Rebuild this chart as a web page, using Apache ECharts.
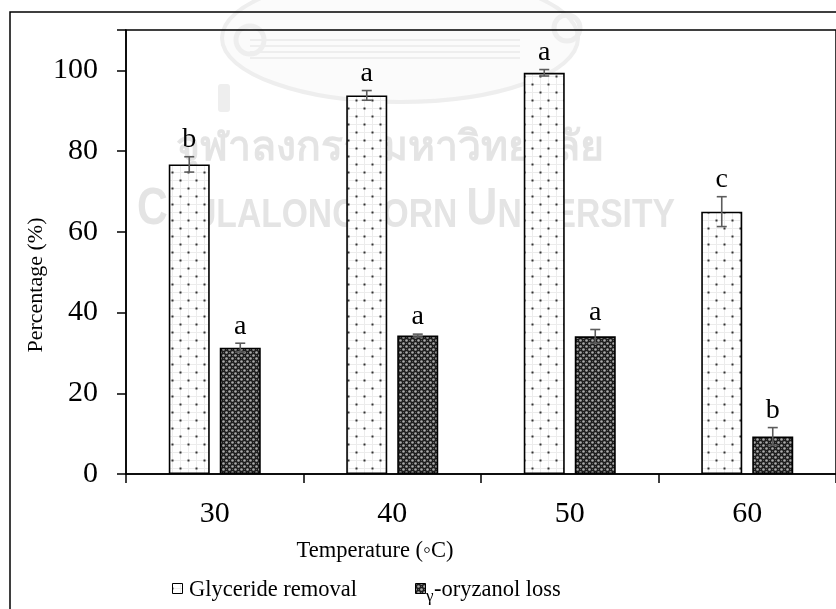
<!DOCTYPE html>
<html>
<head>
<meta charset="utf-8">
<script src="https://cdn.jsdelivr.net/npm/echarts@6/dist/echarts.min.js"></script>
<style>
  html, body { margin: 0; padding: 0; background: #fff; }
  #chart { width: 836px; height: 609px; }
</style>
</head>
<body>
<div id="chart"></div>
<script>
// Reaction temperature (°C)
const categories = ['30', '40', '50', '60'];

// Glyceride removal (%) with standard deviation and significance letters
const glycerideRemoval = [76.7, 93.8, 99.4, 65.0];
const glycerideErr = [1.9, 1.2, 0.8, 3.7];
const glycerideLetters = ['b', 'a', 'a', 'c'];

// γ-oryzanol loss (%) with standard deviation and significance letters
const oryzanolLoss = [31.3, 34.3, 34.1, 9.3];
const oryzanolErr = [1.1, 0.35, 1.7, 2.2];
const oryzanolLetters = ['a', 'a', 'a', 'b'];

const yTicks = { min: 0, max: 110, interval: 20 };

const SERIF = 'Liberation Serif';
const BAR_W = 41;
const BAR_SPACE = 10;

// Dotted fill used for the glyceride bars
function dotPattern() {
  const c = document.createElement('canvas');
  c.width = 16; c.height = 16;
  const g = c.getContext('2d');
  g.fillStyle = '#ffffff';
  g.fillRect(0, 0, 16, 16);
  g.fillStyle = '#ececec';
  g.fillRect(4, 0, 1, 16);
  g.fillRect(12, 0, 1, 16);
  g.fillRect(0, 4, 16, 1);
  g.fillRect(0, 12, 16, 1);
  g.fillStyle = '#333333';
  g.fillRect(3.5, 3.5, 2, 2);
  g.fillRect(11.5, 11.5, 2, 2);
  return c;
}

// Dark cross-hatched fill used for the γ-oryzanol bars
function hatchPattern() {
  const c = document.createElement('canvas');
  c.width = 6; c.height = 6;
  const g = c.getContext('2d');
  g.fillStyle = '#1c1c1c';
  g.fillRect(0, 0, 6, 6);
  g.fillStyle = '#ababab';
  g.beginPath(); g.arc(1.5, 1.5, 1.3, 0, Math.PI * 2); g.fill();
  g.beginPath(); g.arc(4.5, 4.5, 1.3, 0, Math.PI * 2); g.fill();
  g.fillStyle = '#5a5a5a';
  g.fillRect(4, 1, 1, 1);
  g.fillRect(1, 4, 1, 1);
  return c;
}

const dotFill = { image: dotPattern(), repeat: 'repeat' };
const hatchFill = { image: hatchPattern(), repeat: 'repeat' };

function errData(vals, errs) {
  return vals.map((v, i) => [i, v, errs[i]]);
}

// Error bar with its letter above, shifted to sit over its own bar
function errorRenderer(offset, letters) {
  return function (params, api) {
    const i = api.value(0);
    const v = api.value(1);
    const e = api.value(2);
    const top = api.coord([i, v + e]);
    const bot = api.coord([i, v - e]);
    const x = top[0] + offset;
    const cap = 5;
    const line = { stroke: '#5c5c5c', lineWidth: 1.6 };
    return {
      type: 'group',
      children: [
        { type: 'line', shape: { x1: x, y1: top[1], x2: x, y2: bot[1] }, style: line },
        { type: 'line', shape: { x1: x - cap, y1: top[1], x2: x + cap, y2: top[1] }, style: line },
        { type: 'line', shape: { x1: x - cap, y1: bot[1], x2: x + cap, y2: bot[1] }, style: line },
        {
          type: 'text',
          style: {
            text: letters[i], x: x, y: top[1] - 3,
            align: 'center', verticalAlign: 'bottom',
            font: '28px "' + SERIF + '"', fill: '#000'
          }
        }
      ]
    };
  };
}

const chart = echarts.init(document.getElementById('chart'), null, { renderer: 'canvas' });
const half = (BAR_W + BAR_SPACE) / 2;
const WM = '#e4e4e4';
const WM_LIGHT = '#eeeeee';

chart.setOption({
  animation: false,
  backgroundColor: '#ffffff',
  grid: {
    left: 126, top: 30, width: 715, height: 444,
    show: true, borderColor: '#000', borderWidth: 1.5, backgroundColor: 'transparent'
  },
  xAxis: {
    type: 'category',
    data: categories,
    axisLine: { lineStyle: { color: '#000', width: 1.5 } },
    axisTick: { show: true, length: 9, lineStyle: { color: '#000', width: 1.5 } },
    axisLabel: { color: '#000', fontFamily: SERIF, fontSize: 30, margin: 25 }
  },
  yAxis: {
    type: 'value',
    min: yTicks.min, max: yTicks.max, interval: yTicks.interval,
    axisLine: { show: true, lineStyle: { color: '#000', width: 1.5 } },
    axisTick: { show: true, length: 9, lineStyle: { color: '#000', width: 1.5 } },
    splitLine: { show: false },
    axisLabel: {
      color: '#000', fontFamily: SERIF, fontSize: 30, margin: 28,
      formatter: v => (v > 100 ? '' : String(v))
    }
  },
  series: [
    {
      name: 'Glyceride removal', type: 'bar', data: glycerideRemoval,
      barWidth: BAR_W, barGap: (BAR_SPACE / BAR_W * 100) + '%',
      itemStyle: { color: dotFill, borderColor: '#000', borderWidth: 1.6 },
      z: 2
    },
    {
      name: 'γ-oryzanol loss', type: 'bar', data: oryzanolLoss,
      barWidth: BAR_W,
      itemStyle: { color: hatchFill, borderColor: '#000', borderWidth: 1.6 },
      z: 2
    },
    {
      type: 'custom', data: errData(glycerideRemoval, glycerideErr),
      renderItem: errorRenderer(-half, glycerideLetters), z: 5
    },
    {
      type: 'custom', data: errData(oryzanolLoss, oryzanolErr),
      renderItem: errorRenderer(half, oryzanolLetters), z: 5
    }
  ],
  graphic: [
    // faint university seal behind the plot
    {
      type: 'ellipse', z: -10,
      shape: { cx: 400, cy: 38, rx: 178, ry: 64 },
      style: { fill: '#fbfbfb', stroke: WM_LIGHT, lineWidth: 4 }
    },
    {
      type: 'group', z: -10,
      children: [40, 46, 52, 58].map(y => ({
        type: 'line', shape: { x1: 250, y1: y, x2: 520, y2: y },
        style: { stroke: WM_LIGHT, lineWidth: 2 }
      }))
    },
    {
      type: 'circle', z: -10, shape: { cx: 250, cy: 40, r: 14 },
      style: { fill: 'none', stroke: WM_LIGHT, lineWidth: 5 }
    },
    {
      type: 'circle', z: -10, shape: { cx: 567, cy: 28, r: 13 },
      style: { fill: 'none', stroke: WM_LIGHT, lineWidth: 5 }
    },
    {
      type: 'rect', z: -10, shape: { x: 218, y: 84, width: 12, height: 28, r: 3 },
      style: { fill: WM_LIGHT }
    },
    // faint background lettering
    {
      type: 'text', z: -10, left: 176, top: 128,
      style: { text: 'จุฬาลงกรณ์มหาวิทยาลัย', font: 'bold 41px "Noto Sans", sans-serif', fill: WM }
    },
    {
      type: 'text', z: -10, x: 137, y: 236, scaleX: 0.82,
      style: {
        text: '{b|C}{s|HULALONGKORN }{b|U}{s|NIVERSITY}',
        fill: WM, verticalAlign: 'bottom',
        rich: {
          b: { font: 'bold 52px "Liberation Sans", sans-serif', fill: WM, verticalAlign: 'bottom' },
          s: { font: 'bold 41px "Liberation Sans", sans-serif', fill: WM, verticalAlign: 'bottom' }
        }
      }
    },
    // outer frame
    {
      type: 'rect', z: 1,
      shape: { x: 10, y: 12, width: 900, height: 700 },
      style: { fill: 'none', stroke: '#000', lineWidth: 1.5 }
    },
    // axis titles
    {
      type: 'text', z: 10, x: 36, y: 285, rotation: Math.PI / 2,
      style: { text: 'Percentage (%)', font: '22px "' + SERIF + '"', fill: '#000', align: 'center', verticalAlign: 'middle' }
    },
    {
      type: 'text', z: 10, x: 375, y: 551,
      style: { text: 'Temperature (◦C)', font: '22.5px "' + SERIF + '"', fill: '#000', align: 'center', verticalAlign: 'middle' }
    },
    // legend
    {
      type: 'rect', z: 10, shape: { x: 172.5, y: 583.5, width: 10, height: 10 },
      style: { fill: dotFill, stroke: '#000', lineWidth: 1 }
    },
    {
      type: 'text', z: 10, x: 189, y: 590,
      style: { text: 'Glyceride removal', font: '22.5px "' + SERIF + '"', fill: '#000', verticalAlign: 'middle' }
    },
    {
      type: 'rect', z: 10, shape: { x: 415.5, y: 583.5, width: 10, height: 10 },
      style: { fill: hatchFill, stroke: '#000', lineWidth: 1 }
    },
    {
      type: 'text', z: 10, x: 426, y: 597,
      style: { text: 'γ', font: '17px "' + SERIF + '"', fill: '#000', verticalAlign: 'middle' }
    },
    {
      type: 'text', z: 10, x: 434, y: 590,
      style: { text: '-oryzanol loss', font: '22.5px "' + SERIF + '"', fill: '#000', verticalAlign: 'middle' }
    }
  ]
});
</script>
</body>
</html>
